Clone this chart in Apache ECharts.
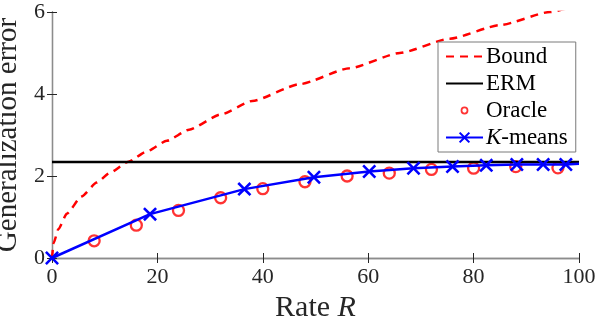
<!DOCTYPE html>
<html>
<head>
<meta charset="utf-8">
<script src="https://cdn.jsdelivr.net/npm/echarts@6/dist/echarts.min.js"></script>
<style>
  html, body { margin: 0; padding: 0; background: #fff; }
  #chart { width: 598px; height: 320px; }
</style>
</head>
<body>
<div id="chart"></div>
<script>
// bound curve
const boundRate = [0, 0.3, 1.2, 2.8, 5.6, 8.5, 11, 14.5, 18, 21.8, 26, 32, 38, 47, 56.5, 66, 75.5, 85, 94.5, 100];
const boundErr = [0, 0.36, 0.70, 1.08, 1.5, 1.84, 2.08, 2.35, 2.6, 2.86, 3.13, 3.50, 3.83, 4.24, 4.63, 5.0, 5.35, 5.68, 6.0, 6.17];
// ERM constant level
const ermErr = 2.34;
// oracle circles
const oracleRate = [8, 16, 24, 32, 40, 48, 56, 64, 72, 80, 88, 96];
const oracleErr = [0.42, 0.80, 1.16, 1.47, 1.69, 1.86, 2.0, 2.07, 2.16, 2.19, 2.23, 2.2];
// K-means crosses (last point only continues the line to the edge)
const kmRate = [0, 18.6, 36.5, 49.7, 60.2, 68.6, 76, 82.4, 88.2, 93.2, 97.5, 100];
const kmErr = [0, 1.07, 1.68, 1.97, 2.11, 2.19, 2.23, 2.26, 2.28, 2.28, 2.28, 2.3];
// axis ticks
const xTicks = [0, 20, 40, 60, 80, 100];
const yTicks = [0, 2, 4, 6];

const font = '"Liberation Serif", "Times New Roman", serif';
const axisGray = '#8c8c8c';
const txt = '#262626';
const crossPath = 'path://M0,1.3L1.3,0L5,3.7L8.7,0L10,1.3L6.3,5L10,8.7L8.7,10L5,6.3L1.3,10L0,8.7L3.7,5Z';
// small ring for the oracle legend entry, padded with specks so it stays small
const ringIcon = 'path://M0,0L0.01,0L0,0.01Z M38,14L37.99,14L38,13.99Z ' +
  'M15,7A4,4 0 1,0 23,7A4,4 0 1,0 15,7Z M16.8,7A2.2,2.2 0 1,1 21.2,7A2.2,2.2 0 1,1 16.8,7Z';

function zip(a, b) {
  return a.map((v, i) => [v, b[i]]);
}

function draw() {
  let chart = echarts.init(document.getElementById('chart'));

  let kmData = zip(kmRate, kmErr).map((p, i) => {
    if (i === kmRate.length - 1) return { value: p, symbol: 'none' };
    return p;
  });

  const hideSym = { color: 'rgba(0,0,0,0)', borderColor: 'rgba(0,0,0,0)', borderWidth: 0 };

  let option = {
    animation: false,
    textStyle: { fontFamily: font },
    grid: { left: 52, right: 19, top: 12, bottom: 62, containLabel: false, outerBoundsMode: 'none' },
    legend: {
      orient: 'vertical',
      left: 438,
      top: 42,
      padding: [3, 8, 3, 7],
      backgroundColor: '#fff',
      borderColor: '#7a7a7a',
      borderWidth: 1,
      itemWidth: 37,
      itemHeight: 14,
      itemGap: 4,
      textStyle: {
        fontFamily: font, fontSize: 23, color: '#000', padding: [0, 0, 0, -2],
        rich: { i: { fontStyle: 'italic', fontFamily: font, fontSize: 23, color: '#000' } }
      },
      formatter: function (name) {
        if (name === 'K-means') return '{i|K}-means';
        return name;
      },
      data: [
        { name: 'Bound', itemStyle: hideSym },
        { name: 'ERM', itemStyle: hideSym },
        { name: 'Oracle', icon: ringIcon, itemStyle: { color: '#ff0000', borderWidth: 0 } },
        { name: 'K-means' }
      ]
    },
    xAxis: [{
      type: 'value', min: 0, max: 100, interval: 20,
      name: 'Rate {i|R}', nameLocation: 'middle', nameGap: 29,
      nameTextStyle: {
        fontFamily: font, fontSize: 30, color: txt,
        rich: { i: { fontStyle: 'italic', fontFamily: font, fontSize: 30, color: txt } }
      },
      axisLine: { show: true, lineStyle: { color: axisGray, width: 1.3 } },
      axisTick: { show: true, inside: true, length: 5, lineStyle: { color: txt, width: 1 } },
      axisLabel: { fontFamily: font, fontSize: 22, color: txt, margin: 8,
        formatter: v => xTicks.includes(v) ? String(v) : '' },
      splitLine: { show: false }
    }, {
      type: 'value', min: 0, max: 100, interval: 20, position: 'top',
      axisLine: { show: true, lineStyle: { color: axisGray, width: 1.3 } },
      axisTick: { show: true, inside: true, length: 5, lineStyle: { color: txt, width: 1 } },
      axisLabel: { show: false }, splitLine: { show: false }
    }],
    yAxis: [{
      type: 'value', min: 0, max: 6, interval: 2,
      name: 'Generalization error', nameLocation: 'middle', nameGap: 24,
      nameTextStyle: { fontFamily: font, fontSize: 29, color: txt },
      axisLine: { show: true, lineStyle: { color: axisGray, width: 1.3 } },
      axisTick: { show: true, inside: true, length: 5, lineStyle: { color: txt, width: 1 } },
      axisLabel: { fontFamily: font, fontSize: 22, color: txt, margin: 7,
        formatter: v => yTicks.includes(v) ? String(v) : '' },
      splitLine: { show: false }
    }, {
      type: 'value', min: 0, max: 6, interval: 2, position: 'right',
      axisLine: { show: true, lineStyle: { color: axisGray, width: 1.3 } },
      axisTick: { show: true, inside: true, length: 5, lineStyle: { color: txt, width: 1 } },
      axisLabel: { show: false }, splitLine: { show: false }
    }],
    series: [
      {
        name: 'Bound', type: 'line', symbol: 'none', smooth: 0.2, smoothMonotone: 'x',
        data: zip(boundRate, boundErr),
        lineStyle: { color: '#ff0000', width: 2.5, type: [8, 6] },
        itemStyle: { color: '#ff0000' }
      },
      {
        name: 'ERM', type: 'line', symbol: 'none',
        data: [[0, ermErr], [100, ermErr]],
        lineStyle: { color: '#000', width: 2.5 },
        itemStyle: { color: '#000' }
      },
      {
        name: 'Oracle', type: 'scatter', symbol: 'circle', symbolSize: 11,
        data: zip(oracleRate, oracleErr),
        itemStyle: { color: 'rgba(255,255,255,0)', borderColor: '#ff0000', borderWidth: 2.3 }
      },
      {
        name: 'K-means', type: 'line', symbol: crossPath, symbolSize: 14, showAllSymbol: true,
        data: kmData, z: 3,
        lineStyle: { color: '#0000ff', width: 2.5 },
        itemStyle: { color: '#0000ff' }
      }
    ]
  };

  chart.setOption(option);
}

if (document.fonts && document.fonts.load) {
  Promise.all([
    document.fonts.load('22px "Liberation Serif"'),
    document.fonts.load('italic 22px "Liberation Serif"')
  ]).then(draw, draw);
} else {
  draw();
}
</script>
</body>
</html>
